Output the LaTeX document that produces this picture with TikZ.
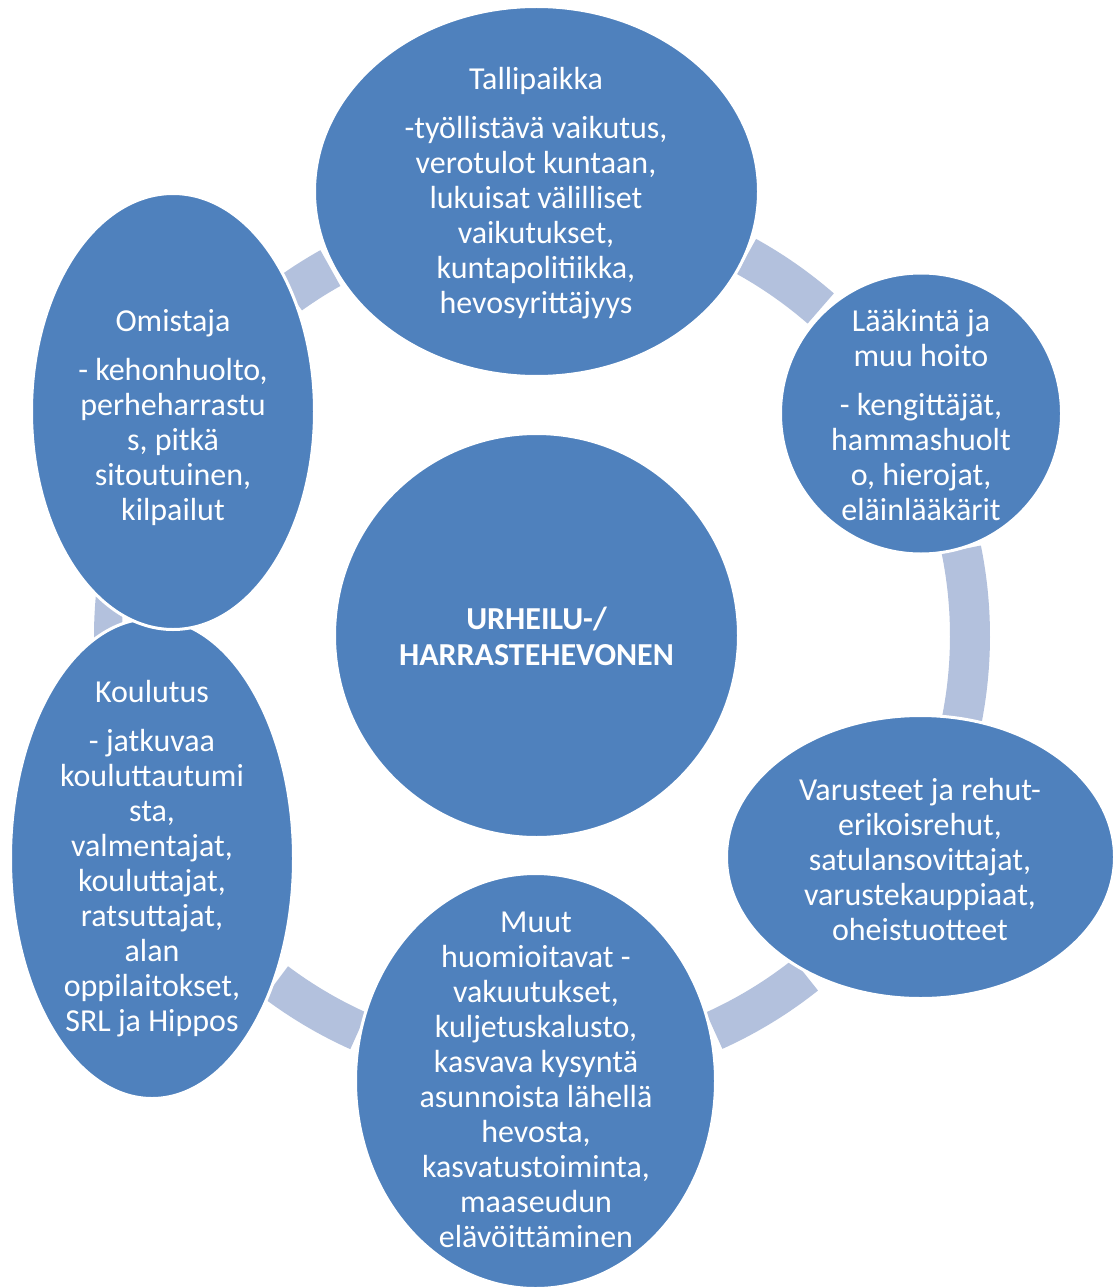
\documentclass[tikz,border=0pt]{standalone}
\usepackage{fontspec}
\setmainfont{Carlito}
\usetikzlibrary{shapes.geometric}
\definecolor{bubblefill}{RGB}{79,129,189}
\definecolor{bandfill}{RGB}{179,193,221}
\newcommand{\mysector}[4]{%
  \fill[band] plot[domain=#1:#2, samples=30] (\x:#3) -- plot[domain=#2:#1, samples=30] (\x:#4) -- cycle;}
\begin{document}
\begin{tikzpicture}[x=0.75pt, y=-0.75pt,
  bubble/.style={ellipse, fill=bubblefill, draw=white, line width=2.25pt, inner sep=0pt},
  hub/.style={circle, fill=bubblefill, draw=white, line width=2.25pt, inner sep=0pt},
  txt/.style={text=white, align=center, font=\fontsize{24}{26.25}\selectfont, inner sep=0pt},
  band/.style={fill=bandfill}]
\fill[white] (0,0) rectangle (1114,1287);
\useasboundingbox (0,0) rectangle (1114,1287);
% connector bands
\begin{scope}[shift={(536,636)}]
  \mysector{-61}{-49}{414}{454}
  \mysector{-11.5}{11}{414}{454}
  \mysector{51.5}{65.7}{413}{453}
  \mysector{114.2}{126.9}{413}{453}
  \mysector{178}{187}{414}{442}
  \mysector{234.3}{240.8}{401}{442}
\end{scope}
% bubbles
\node[bubble, minimum width=333pt, minimum height=277.5pt] (talli) at (536.5,191.5) {};
\node[bubble, minimum width=210.75pt, minimum height=210.75pt] (laak) at (921,413.5) {};
\node[bubble, minimum width=291pt, minimum height=212.25pt] (var) at (920.5,857) {};
\node[bubble, minimum width=270pt, minimum height=311.25pt] (muut) at (535.5,1081) {};
\node[bubble, minimum width=212.25pt, minimum height=360pt] (koul) at (152,858.5) {};
\node[bubble, minimum width=212.25pt, minimum height=327pt] (omis) at (173,411.5) {};
\node[hub, minimum size=303pt] (hub) at (536.5,635.5) {};
% texts
\node[txt] (tallit) at (536,193) {Tallipaikka\\[10.5pt]-työllistävä vaikutus,\\verotulot kuntaan,\\lukuisat välilliset\\vaikutukset,\\kuntapolitiikka,\\hevosyrittäjyys};
\node[txt] (laakt) at (921,415) {Lääkintä ja\\muu hoito\\[10.5pt]- kengittäjät,\\hammashuolt\\o, hierojat,\\eläinlääkärit};
\node[txt] (vart) at (920,859) {Varusteet ja rehut-\\erikoisrehut,\\satulansovittajat,\\varustekauppiaat,\\oheistuotteet};
\node[txt] (muutt) at (536,1080) {Muut\\huomioitavat -\\vakuutukset,\\kuljetuskalusto,\\kasvava kysyntä\\asunnoista lähellä\\hevosta,\\kasvatustoiminta,\\maaseudun\\elävöittäminen};
\node[txt] (koult) at (152,858.5) {Koulutus\\[10.5pt]- jatkuvaa\\kouluttautumi\\sta,\\valmentajat,\\kouluttajat,\\ratsuttajat,\\alan\\oppilaitokset,\\SRL ja Hippos};
\node[txt] (omist) at (173,417.5) {Omistaja\\[10.5pt]- kehonhuolto,\\perheharrastu\\s, pitkä\\sitoutuinen,\\kilpailut};
\node[txt, font=\fontsize{24}{27}\selectfont\bfseries] (hubt) at (536.5,636) {URHEILU-/\\HARRASTEHEVONEN};
\end{tikzpicture}
\end{document}
